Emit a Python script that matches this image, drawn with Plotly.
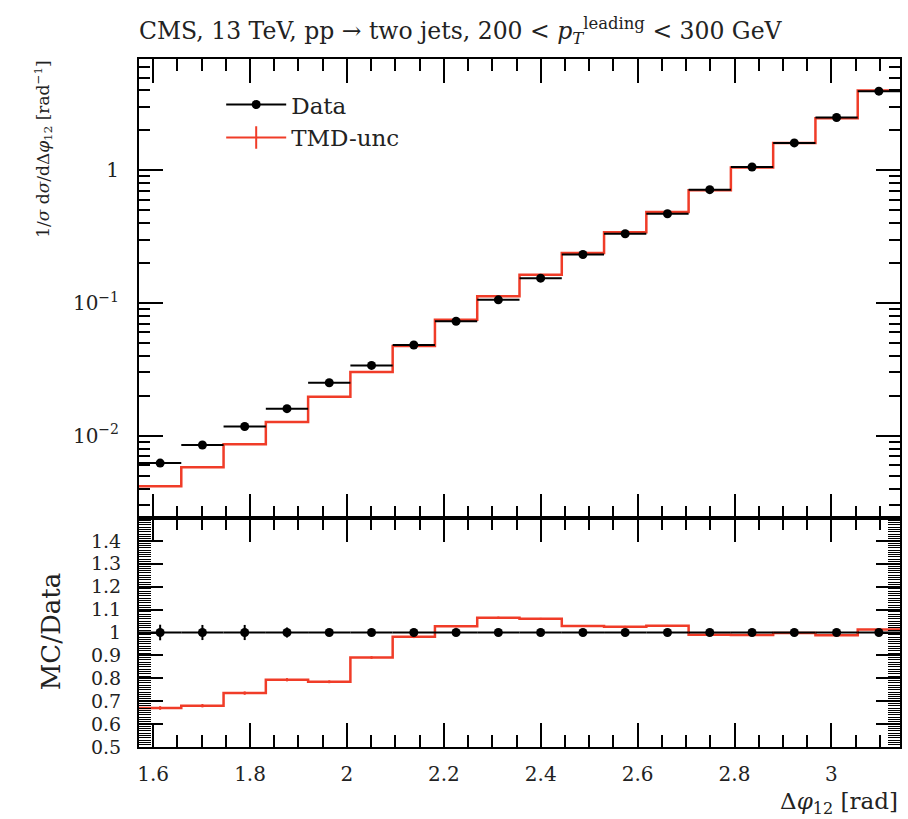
import numpy as np
import plotly.graph_objects as go

# ---------------- data ----------------
n_bins = 18
phi_lo, phi_hi = np.pi / 2, np.pi
data_vals = [0.00622, 0.00851, 0.01175, 0.0160, 0.0251, 0.0339, 0.0483, 0.0729, 0.1057,
             0.154, 0.232, 0.333, 0.471, 0.715, 1.06, 1.61, 2.50, 3.95]
data_relerr = [0.034, 0.033, 0.033, 0.022, 0.015, 0.010, 0.010, 0.006, 0.005,
               0.005, 0.004, 0.004, 0.004, 0.004, 0.004, 0.004, 0.004, 0.004]
mc_vals = [0.00417, 0.00579, 0.00864, 0.0127, 0.0197, 0.0302, 0.0474, 0.0749, 0.1125,
           0.1632, 0.2385, 0.3413, 0.4851, 0.708, 1.049, 1.607, 2.47, 4.00]
mc_relerr = [0.012, 0.011, 0.010, 0.009, 0.008, 0.007, 0.006, 0.005, 0.005,
             0.004, 0.004, 0.004, 0.003, 0.003, 0.003, 0.003, 0.003, 0.003]
top_ticks = [0.01, 0.1, 1]
top_ticktext = ["10<sup>−2</sup>", "10<sup>−1</sup>", "1"]
ratio_ticks = [0.5, 0.6, 0.7, 0.8, 0.9, 1.0, 1.1, 1.2, 1.3, 1.4]
ratio_ticktext = ["0.5", "0.6", "0.7", "0.8", "0.9", "1", "1.1", "1.2", "1.3", "1.4"]

edges = np.linspace(phi_lo, phi_hi, n_bins + 1)
centers = 0.5 * (edges[:-1] + edges[1:])
halfw = 0.5 * (edges[1:] - edges[:-1])
data = np.array(data_vals)
mc = np.array(mc_vals)
ratio_mc = mc / data

RED = "#f03c28"
FONT = "DejaVu Serif"
TXT = "#222"

fig = go.Figure()

# ---- top panel ----
fig.add_trace(go.Scatter(
    x=list(edges), y=list(mc) + [mc[-1]], mode="lines", line_shape="hv",
    line=dict(color=RED, width=2.5), showlegend=False, xaxis="x", yaxis="y"))
fig.add_trace(go.Scatter(
    x=centers, y=mc, mode="markers", marker=dict(size=2, color=RED, opacity=0),
    error_y=dict(type="data", array=mc * np.array(mc_relerr), color=RED, thickness=2, width=0),
    showlegend=False, xaxis="x", yaxis="y"))
fig.add_trace(go.Scatter(
    x=centers, y=data, mode="markers", marker=dict(size=9, color="black"),
    error_x=dict(type="data", array=halfw, color="black", thickness=2, width=0),
    error_y=dict(type="data", array=data * np.array(data_relerr), color="black", thickness=2, width=0),
    showlegend=False, xaxis="x", yaxis="y"))

# legend entries
fig.add_trace(go.Scatter(x=[None], y=[None], mode="lines+markers", name="Data",
                         line=dict(color="black", width=2),
                         marker=dict(size=9, color="black"), xaxis="x", yaxis="y"))
fig.add_trace(go.Scatter(x=[None], y=[None], mode="lines+markers", name="TMD-unc",
                         line=dict(color=RED, width=2),
                         marker=dict(size=16, symbol="line-ns-open", color=RED,
                                     line=dict(color=RED, width=2)),
                         xaxis="x", yaxis="y"))

# ---- ratio panel ----
fig.add_trace(go.Scatter(
    x=list(edges), y=list(ratio_mc) + [ratio_mc[-1]], mode="lines", line_shape="hv",
    line=dict(color=RED, width=2.5), showlegend=False, xaxis="x2", yaxis="y2"))
fig.add_trace(go.Scatter(
    x=centers, y=ratio_mc, mode="markers", marker=dict(size=2, color=RED, opacity=0),
    error_y=dict(type="data", array=ratio_mc * np.array(mc_relerr), color=RED, thickness=2, width=0),
    showlegend=False, xaxis="x2", yaxis="y2"))
fig.add_trace(go.Scatter(
    x=centers, y=data / data, mode="markers", marker=dict(size=9, color="black"),
    error_x=dict(type="data", array=halfw, color="black", thickness=2, width=0),
    error_y=dict(type="data", array=np.array(data_relerr), color="black", thickness=2, width=0),
    showlegend=False, xaxis="x2", yaxis="y2"))

split = 229 / 688

xcommon = dict(range=[phi_lo, phi_hi], tickmode="linear", tick0=0, dtick=0.2,
               ticks="inside", ticklen=24, tickwidth=1.5, tickcolor="black",
               showline=True, linewidth=2, linecolor="black", mirror="allticks",
               showgrid=False, zeroline=False,
               minor=dict(ticks="inside", ticklen=12, tickwidth=1.5, tickcolor="black",
                          tick0=0, dtick=0.05, showgrid=False))

fig.update_layout(
    width=908, height=819, autosize=False,
    margin=dict(l=139, r=6, t=59, b=72),
    paper_bgcolor="white", plot_bgcolor="white",
    font=dict(family=FONT, color=TXT, size=20),
    title=dict(text="CMS, 13 TeV, pp → two jets, 200 &lt; <i>p</i><sub><i>T</i></sub><sup>leading</sup> &lt; 300 GeV",
               x=139 / 908, xanchor="left", y=1 - 31 / 819, yanchor="middle",
               xref="container", yref="container",
               font=dict(family=FONT, size=23.5, color=TXT)),
    xaxis=dict(xcommon, anchor="y", domain=[0, 1], showticklabels=False, matches="x2"),
    xaxis2=dict(xcommon, anchor="y2", domain=[0, 1], showticklabels=True,
                ticklabelstandoff=8, tickfont=dict(size=20, family=FONT, color=TXT)),
    yaxis=dict(type="log", domain=[split, 1], range=[np.log10(0.0024), np.log10(6.9)],
               tickmode="array", tickvals=top_ticks, ticktext=top_ticktext,
               ticks="inside", ticklen=24, tickwidth=1.5, tickcolor="black",
               showline=True, linewidth=2, linecolor="black", mirror="allticks",
               showgrid=False, zeroline=False, ticklabelstandoff=14,
               tickfont=dict(size=20, family=FONT, color=TXT),
               minor=dict(ticks="inside", ticklen=11, tickwidth=1.5, tickcolor="black",
                          dtick="D1", showgrid=False)),
    yaxis2=dict(domain=[0, split], range=[0.5, 1.5],
                tickmode="array", tickvals=ratio_ticks, ticktext=ratio_ticktext,
                ticks="inside", ticklen=24, tickwidth=1.5, tickcolor="black",
                showline=True, linewidth=2, linecolor="black", mirror="allticks",
                showgrid=False, zeroline=False, ticklabelstandoff=12,
                tickfont=dict(size=19, family=FONT, color=TXT),
                minor=dict(ticks="inside", ticklen=12, tickwidth=1, tickcolor="black",
                           tick0=0, dtick=0.01, showgrid=False)),
    legend=dict(x=0.108, y=0.965, xanchor="left", yanchor="top",
                bgcolor="rgba(0,0,0,0)", font=dict(size=23, family=FONT, color=TXT),
                itemwidth=60, tracegroupgap=4),
    annotations=[
        dict(text="1/<i>σ</i> d<i>σ</i>/dΔ<i>φ</i><sub>12</sub> [rad<sup>−1</sup>]",
             xref="paper", yref="paper", x=(43 - 139) / 763, y=1.0,
             xanchor="center", yanchor="top", textangle=-90, showarrow=False,
             font=dict(size=17, family=FONT, color=TXT)),
        dict(text="MC/Data", xref="paper", yref="paper", x=(51 - 139) / 763, y=split / 2 + 0.002,
             xanchor="center", yanchor="middle", textangle=-90, showarrow=False,
             font=dict(size=26, family=FONT, color=TXT)),
        dict(text="Δ<i>φ</i><sub>12</sub> [rad]", xref="paper", yref="paper",
             x=1.0, y=-(803 - 747) / 688, xanchor="right", yanchor="middle",
             showarrow=False, font=dict(size=23, family=FONT, color=TXT)),
    ],
)

fig.write_html("out.html")
